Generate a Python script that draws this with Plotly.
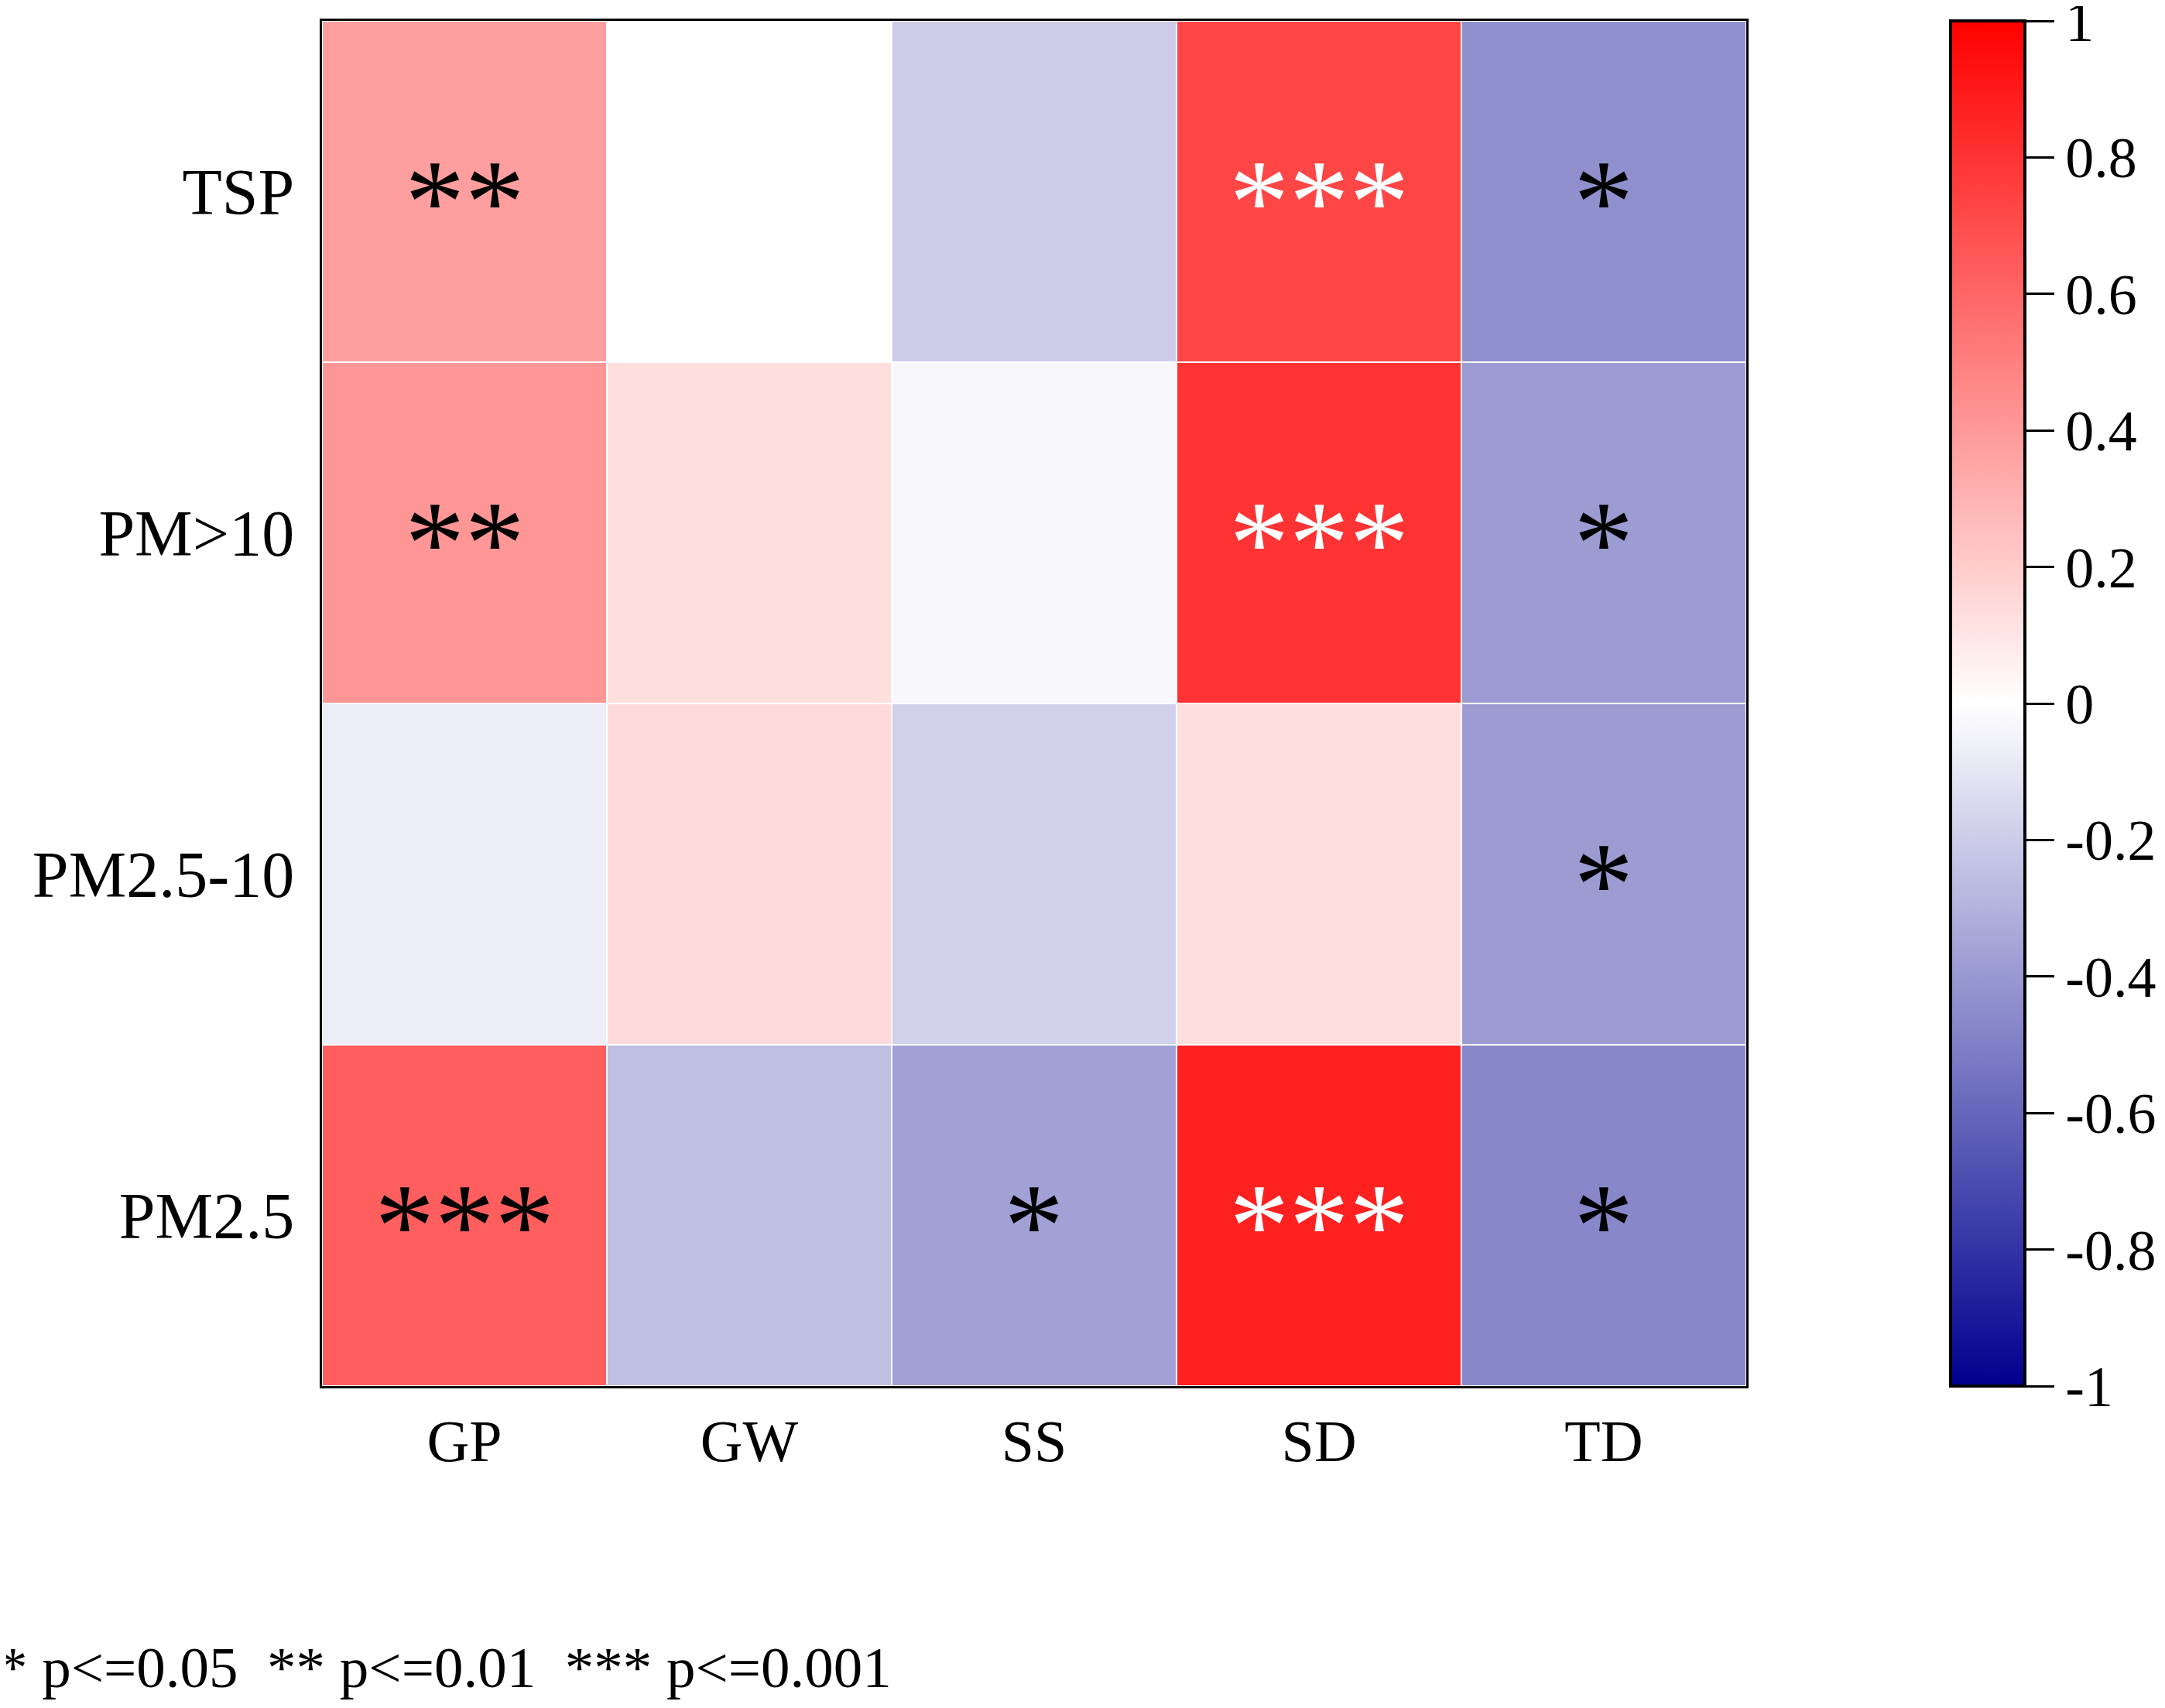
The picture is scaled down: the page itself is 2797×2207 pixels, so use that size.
import plotly.graph_objects as go

# Data
rows = ["TSP", "PM>10", "PM2.5-10", "PM2.5"]
cols = ["GP", "GW", "SS", "SD", "TD"]
r_values = [
    [0.38, 0.00, -0.20, 0.725, -0.435],
    [0.41, 0.13, -0.03, 0.80, -0.39],
    [-0.07, 0.145, -0.18, 0.13, -0.39],
    [0.63, -0.25, -0.37, 0.875, -0.47],
]
sig_marks = [
    ["**", "", "", "***", "*"],
    ["**", "", "", "***", "*"],
    ["", "", "", "", "*"],
    ["***", "", "*", "***", "*"],
]
cbar_ticks = [1, 0.8, 0.6, 0.4, 0.2, 0, -0.2, -0.4, -0.6, -0.8, -1]
cbar_labels = ["1", "0.8", "0.6", "0.4", "0.2", "0", "-0.2", "-0.4", "-0.6", "-0.8", "-1"]
footnote = "* p<=0.05  ** p<=0.01  *** p<=0.001"

FONT = "Liberation Serif"
OFF = 8  # page body margin
W, H = 2797 - OFF, 2207 - OFF
L, T = 416 - OFF, 27 - OFF
R = W - (2256 - OFF)
B = H - (1791 - OFF)
plot_w = W - L - R
plot_h = H - T - B

colorscale = [[0.0, "#00008F"], [0.5, "#FFFFFF"], [1.0, "#FF0000"]]

fig = go.Figure()
fig.add_trace(go.Heatmap(
    z=r_values, x=cols, y=rows,
    zmin=-1, zmax=1, colorscale=colorscale,
    xgap=2, ygap=2,
    colorbar=dict(
        x=(2520 - OFF - L) / plot_w, xanchor="left", xpad=0, ypad=0,
        y=0.5, yanchor="middle", len=1, lenmode="fraction",
        thickness=96, thicknessmode="pixels",
        outlinecolor="black", outlinewidth=4,
        tickvals=cbar_ticks, ticktext=cbar_labels,
        ticks="outside", ticklen=36, tickwidth=3, tickcolor="black",
        ticklabeloverflow="allow",
        tickfont=dict(family=FONT, size=74, color="black"),
    ),
    hoverinfo="skip",
))

annotations = []
for i, rname in enumerate(rows):
    for j, cname in enumerate(cols):
        s = sig_marks[i][j]
        if not s:
            continue
        color = "white" if abs(r_values[i][j]) >= 0.7 else "black"
        annotations.append(dict(
            x=cname, y=rname, xref="x", yref="y", text=s, showarrow=False,
            font=dict(family=FONT, size=155, color=color),
            xanchor="center", yanchor="middle", yshift=-13,
        ))

annotations.append(dict(
    x=-L / plot_w, y=(H - B - (2154 - OFF)) / plot_h, xref="paper", yref="paper",
    text=footnote, showarrow=False, xanchor="left", yanchor="middle",
    xshift=-12,
    font=dict(family=FONT, size=75, color="black"),
))

fig.update_layout(
    width=W, height=H,
    margin=dict(l=L, r=R, t=T, b=B, pad=0, autoexpand=False),
    paper_bgcolor="white", plot_bgcolor="white",
    annotations=annotations,
    xaxis=dict(
        showline=True, mirror=True, linecolor="black", linewidth=3,
        ticks="", showgrid=False, zeroline=False, automargin=False,
        tickfont=dict(family=FONT, size=76, color="black"),
        ticklabelstandoff=3,
    ),
    yaxis=dict(
        autorange="reversed",
        showline=True, mirror=True, linecolor="black", linewidth=3,
        ticks="", showgrid=False, zeroline=False, automargin=False,
        tickfont=dict(family=FONT, size=84, color="black"),
        ticklabelstandoff=16,
    ),
)

fig.write_html("out.html")
